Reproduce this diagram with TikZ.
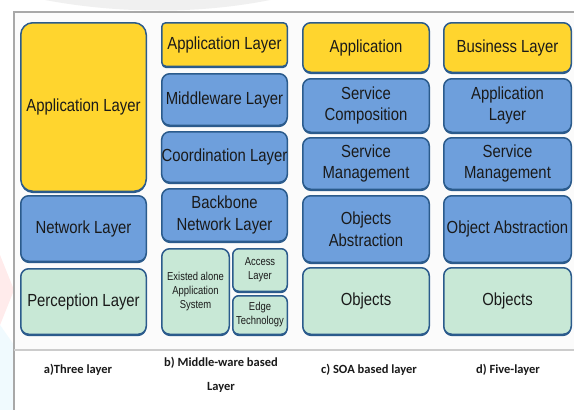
\documentclass[tikz,border=0pt]{standalone}
\usepackage{fontspec}
\setmainfont{Liberation Sans}
\newfontfamily\labfont[FakeStretch=0.85]{Liberation Sans}
\newfontfamily\smlfont[FakeStretch=0.82]{Liberation Sans}
\newfontfamily\capfont{Carlito}
\usetikzlibrary{shadows}
\definecolor{ylw}{HTML}{FFD52E}
\definecolor{blu}{HTML}{6E9FDC}
\definecolor{grn}{HTML}{C8E8D6}
\definecolor{bdr}{HTML}{2B5B8C}
\definecolor{txt}{HTML}{1A1A1A}
\definecolor{frm}{HTML}{A8A8A8}
\tikzset{
  lay/.style={draw=bdr, line width=1.5pt, rounded corners=8pt, text=txt,
    align=center, inner sep=0pt, font=\labfont\fontsize{17.5}{21.5}\selectfont,
    drop shadow={shadow xshift=0pt, shadow yshift=-1.8pt, fill=bdr, opacity=1}},
  small/.style={font=\smlfont\fontsize{11.5}{14}\selectfont},
  capt/.style={font=\capfont\bfseries\fontsize{12.5}{24}\selectfont, text=txt, align=center, inner sep=0pt}
}
\begin{document}
\begin{tikzpicture}[x=1pt, y=-1pt]
\useasboundingbox (0,0) rectangle (574,410);
\fill[white] (0,0) rectangle (574,410);
% faint watermark hints
\fill[red!8] (0,255) -- (14,290) -- (0,325) -- cycle;
\fill[cyan!6] (0,325) -- (14,345) -- (14,410) -- (0,410) -- cycle;
\fill[gray!12] (45,0) .. controls (120,14) and (200,14) .. (270,0) -- cycle;
% frame
\fill[gray!3] (14,12) rectangle (574,350);
\draw[frm, line width=1.2pt] (574,12) -- (14,12) -- (14,410);
\draw[gray!40, line width=1.2pt] (14,350) -- (574,350);
% column a
\node[lay, fill=ylw, minimum width=125.5pt, minimum height=168.5pt, rounded corners=12pt] (a1) at (83.5,107) {Application Layer};
\node[lay, fill=blu, minimum width=125.5pt, minimum height=65.5pt] (a2) at (83.5,228.5) {Network Layer};
\node[lay, fill=grn, minimum width=125.5pt, minimum height=65.5pt] (a3) at (83.5,301.5) {Perception Layer};
% column b
\node[lay, fill=ylw, minimum width=125.5pt, minimum height=43.5pt, rounded corners=4pt] (b1) at (224.5,44.5) {Application Layer};
\node[lay, fill=blu, minimum width=125.5pt, minimum height=51.5pt] (b2) at (224.5,99.5) {Middleware Layer};
\node[lay, fill=blu, minimum width=125.5pt, minimum height=50.5pt] (b3) at (224.5,157) {Coordination Layer};
\node[lay, fill=blu, minimum width=125.5pt, minimum height=52.5pt] (b4) at (224.5,215) {Backbone\\Network Layer};
\node[lay, small, fill=grn, minimum width=67.5pt, minimum height=85.5pt] (b5) at (195.5,291.5) {Existed alone\\Application\\System};
\node[lay, small, fill=grn, minimum width=54.5pt, minimum height=42.5pt, rounded corners=6pt] (b6) at (260,270) {Access\\Layer};
\node[lay, small, fill=grn, minimum width=54.5pt, minimum height=38.5pt, rounded corners=6pt] (b7) at (260,315) {Edge\\Technology};
% column c
\node[lay, fill=ylw, minimum width=126.5pt, minimum height=49.5pt] (c1) at (366,47.5) {Application};
\node[lay, fill=blu, minimum width=126.5pt, minimum height=53.5pt] (c2) at (366,105.5) {Service\\Composition};
\node[lay, fill=blu, minimum width=126.5pt, minimum height=51.5pt] (c3) at (366,163.5) {Service\\Management};
\node[lay, fill=blu, minimum width=126.5pt, minimum height=66.5pt] (c4) at (366,229) {Objects\\Abstraction};
\node[lay, fill=grn, minimum width=126.5pt, minimum height=66.5pt] (c5) at (366,301) {Objects};
% column d
\node[lay, fill=ylw, minimum width=127.5pt, minimum height=49.5pt] (d1) at (507.5,47.5) {Business Layer};
\node[lay, fill=blu, minimum width=127.5pt, minimum height=53.5pt] (d2) at (507.5,105.5) {Application\\Layer};
\node[lay, fill=blu, minimum width=127.5pt, minimum height=51.5pt] (d3) at (507.5,163.5) {Service\\Management};
\node[lay, fill=blu, minimum width=127.5pt, minimum height=66.5pt] (d4) at (507.5,229) {Object Abstraction};
\node[lay, fill=grn, minimum width=127.5pt, minimum height=66.5pt] (d5) at (507.5,301) {Objects};
% captions
\node[capt] (ca) at (78,370) {a)Three layer};
\node[capt] (cb) at (221,375) {b) Middle-ware based\\Layer};
\node[capt] (cc) at (369,370) {c) SOA based layer};
\node[capt] (cd) at (508,370) {d) Five-layer};
\end{tikzpicture}
\end{document}
